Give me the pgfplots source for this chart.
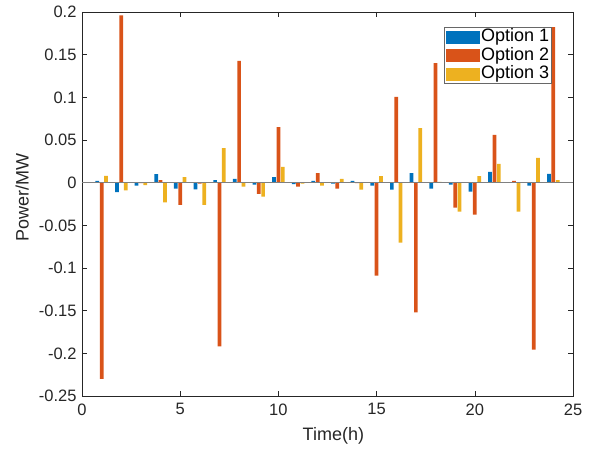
\documentclass[border=0pt]{standalone}
\usepackage{fontspec}
\setmainfont{Liberation Sans}
\usepackage{pgfplots}
\usepackage{pgfplotstable}
\pgfplotsset{compat=1.18}
\definecolor{mblue}{rgb}{0,0.447,0.741}
\definecolor{mred}{rgb}{0.85,0.325,0.098}
\definecolor{myellow}{rgb}{0.929,0.694,0.125}
\definecolor{axgray}{rgb}{0.15,0.15,0.15}

% hourly power of the three options
\pgfplotstableread{
h  o1      o2      o3
1  0.002   -0.230  0.008
2  -0.011  0.196   -0.009
3  -0.0035 -0.0005 -0.003
4  0.010   0.003   -0.023
5  -0.007  -0.026  0.0066
6  -0.008  -0.001  -0.026
7  0.003   -0.192  0.0406
8  0.0043  0.1426  -0.0047
9  -0.0023 -0.013  -0.0164
10 0.0066  0.065   0.0184
11 -0.0016 -0.0047 -0.001
12 0.002   0.0113  -0.0035
13 -0.001  -0.007  0.0043
14 0.002   -0.0005 -0.0082
15 -0.0035 -0.109  0.0078
16 -0.0082 0.1004  -0.0703
17 0.0113  -0.152  0.064
18 -0.007  0.140   0.001
19 -0.0023 -0.0293 -0.034
20 -0.0105 -0.0375 0.0078
21 0.0125  0.0559  0.0219
22 0.0     0.002   -0.034
23 -0.0035 -0.1957 0.0289
24 0.0102  0.1824  0.003
}\powerdata

\begin{document}
\begin{tikzpicture}
\begin{axis}[
  scale only axis, width=491bp, height=384bp,
  xmin=0, xmax=25, ymin=-0.25, ymax=0.2,
  xtick={0,5,10,15,20,25},
  ytick={-0.25,-0.2,-0.15,-0.1,-0.05,0,0.05,0.1,0.15,0.2},
  yticklabels={-0.25,-0.2,-0.15,-0.1,-0.05,0,0.05,0.1,0.15,0.2},
  xticklabels={0,5,10,15,20,25},
  tick align=inside, major tick length=5bp,
  tick style={axgray, line width=0.5bp},
  axis line style={axgray, line width=0.6bp},
  ticklabel style={font=\fontsize{16.5bp}{19bp}\selectfont, text=axgray},
  xticklabel style={yshift=-4bp},
  yticklabel style={xshift=-2bp},
  label style={font=\fontsize{18bp}{21bp}\selectfont, text=axgray},
  xlabel={Time(h)}, ylabel={Power/MW},
  xlabel style={at={(axis description cs:0.512,0)}, anchor=north, yshift=-28bp},
  ylabel style={at={(axis description cs:-0.122,0.517)}, anchor=center},
  legend style={at={(0.957,0.961)}, anchor=north east, draw=axgray!70, line width=0.6bp,
    font=\fontsize{18bp}{20bp}\selectfont, inner xsep=1bp, inner ysep=0.5bp,
    row sep=0bp, nodes={inner xsep=1.5bp, inner ysep=1bp, text height=13bp, text depth=3.5bp}},
  legend cell align=left,
]
\coordinate (sw) at (rel axis cs:0,0);
\coordinate (ne) at (rel axis cs:1,1);
\addplot[ybar, bar width=0.19, bar shift=-0.222, fill=mblue, draw=none,
  legend image code/.code={\fill[mblue] (0bp,-6.5bp) rectangle (34bp,6.5bp);}]
  table[x=h, y=o1]{\powerdata};
\addplot[ybar, bar width=0.19, bar shift=0, fill=mred, draw=none,
  legend image code/.code={\fill[mred] (0bp,-6.5bp) rectangle (34bp,6.5bp);}]
  table[x=h, y=o2]{\powerdata};
\addplot[ybar, bar width=0.19, bar shift=0.222, fill=myellow, draw=none,
  legend image code/.code={\fill[myellow] (0bp,-6.5bp) rectangle (34bp,6.5bp);}]
  table[x=h, y=o3]{\powerdata};
\addplot[forget plot, gray, line width=0.8bp] coordinates {(0,0) (25,0)};
\legend{Option 1, Option 2, Option 3}
\end{axis}
\pgfresetboundingbox
\path[use as bounding box] ([shift={(-82bp,-57bp)}]sw) rectangle ([shift={(17bp,12bp)}]ne);
\end{tikzpicture}
\end{document}
